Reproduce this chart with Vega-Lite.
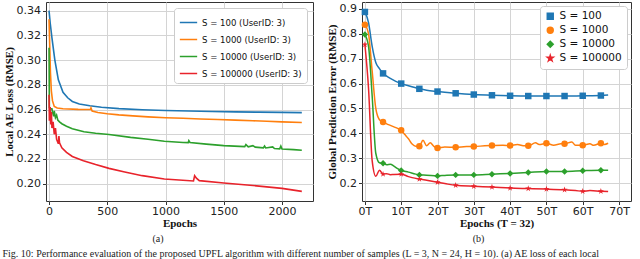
{
  "$schema": "https://vega.github.io/schema/vega-lite/v6.json",
  "padding": {"left": 2, "top": 1, "right": 0, "bottom": 0},
  "background": "white",
  "bounds": "flush",
  "spacing": 49,
  "config": {
    "view": {"stroke": "#333333", "strokeWidth": 1},
    "axis": {
      "domain": false,
      "grid": true,
      "gridColor": "#d4d4d4",
      "gridWidth": 1,
      "tickColor": "#333333",
      "tickSize": 3.5,
      "labelFont": "DejaVu Sans",
      "labelFontSize": 11,
      "labelColor": "#222222",
      "labelPadding": 2,
      "titleFont": "Liberation Serif",
      "titleFontSize": 11,
      "titleFontWeight": "bold",
      "titleColor": "#111111",
      "titlePadding": 2
    },
    "axisX": {"labelPadding": 1, "titlePadding": 1},
    "legend": {
      "orient": "top-right",
      "fillColor": "white",
      "strokeColor": "#cccccc",
      "cornerRadius": 3,
      "padding": 5,
      "labelFont": "DejaVu Sans",
      "labelFontSize": 10.5,
      "labelColor": "#111111",
      "rowPadding": 1,
      "title": null
    },
    "title": {"font": "Liberation Serif", "fontSize": 10, "fontWeight": "normal", "color": "#222222"}
  },
  "title": {
    "text": "Fig. 10: Performance evaluation of the proposed UPFL algorithm with different number of samples (L = 3, N = 24, H = 10). (a) AE loss of each local",
    "orient": "bottom",
    "anchor": "start",
    "offset": 5,
    "font": "Liberation Serif",
    "fontSize": 10,
    "fontWeight": "normal"
  },
  "datasets": {
    "ae": [
      {"epoch": 0, "series": "S = 100 (UserID: 3)", "loss": 0.340},
      {"epoch": 10, "series": "S = 100 (UserID: 3)", "loss": 0.330},
      {"epoch": 25, "series": "S = 100 (UserID: 3)", "loss": 0.318},
      {"epoch": 50, "series": "S = 100 (UserID: 3)", "loss": 0.300},
      {"epoch": 80, "series": "S = 100 (UserID: 3)", "loss": 0.284},
      {"epoch": 120, "series": "S = 100 (UserID: 3)", "loss": 0.274},
      {"epoch": 160, "series": "S = 100 (UserID: 3)", "loss": 0.2695},
      {"epoch": 200, "series": "S = 100 (UserID: 3)", "loss": 0.2665},
      {"epoch": 260, "series": "S = 100 (UserID: 3)", "loss": 0.2645},
      {"epoch": 350, "series": "S = 100 (UserID: 3)", "loss": 0.263},
      {"epoch": 450, "series": "S = 100 (UserID: 3)", "loss": 0.2618},
      {"epoch": 600, "series": "S = 100 (UserID: 3)", "loss": 0.2607},
      {"epoch": 800, "series": "S = 100 (UserID: 3)", "loss": 0.2598},
      {"epoch": 1000, "series": "S = 100 (UserID: 3)", "loss": 0.2592},
      {"epoch": 1200, "series": "S = 100 (UserID: 3)", "loss": 0.2588},
      {"epoch": 1400, "series": "S = 100 (UserID: 3)", "loss": 0.2584},
      {"epoch": 1600, "series": "S = 100 (UserID: 3)", "loss": 0.2581},
      {"epoch": 1800, "series": "S = 100 (UserID: 3)", "loss": 0.2579},
      {"epoch": 2000, "series": "S = 100 (UserID: 3)", "loss": 0.2577},
      {"epoch": 2170, "series": "S = 100 (UserID: 3)", "loss": 0.2575},

      {"epoch": 0, "series": "S = 1000 (UserID: 3)", "loss": 0.333},
      {"epoch": 5, "series": "S = 1000 (UserID: 3)", "loss": 0.315},
      {"epoch": 12, "series": "S = 1000 (UserID: 3)", "loss": 0.290},
      {"epoch": 20, "series": "S = 1000 (UserID: 3)", "loss": 0.275},
      {"epoch": 30, "series": "S = 1000 (UserID: 3)", "loss": 0.267},
      {"epoch": 45, "series": "S = 1000 (UserID: 3)", "loss": 0.2625},
      {"epoch": 70, "series": "S = 1000 (UserID: 3)", "loss": 0.2612},
      {"epoch": 120, "series": "S = 1000 (UserID: 3)", "loss": 0.2606},
      {"epoch": 250, "series": "S = 1000 (UserID: 3)", "loss": 0.2601},
      {"epoch": 355, "series": "S = 1000 (UserID: 3)", "loss": 0.2600},
      {"epoch": 360, "series": "S = 1000 (UserID: 3)", "loss": 0.2612},
      {"epoch": 370, "series": "S = 1000 (UserID: 3)", "loss": 0.2588},
      {"epoch": 420, "series": "S = 1000 (UserID: 3)", "loss": 0.2576},
      {"epoch": 500, "series": "S = 1000 (UserID: 3)", "loss": 0.2566},
      {"epoch": 600, "series": "S = 1000 (UserID: 3)", "loss": 0.2557},
      {"epoch": 720, "series": "S = 1000 (UserID: 3)", "loss": 0.2549},
      {"epoch": 850, "series": "S = 1000 (UserID: 3)", "loss": 0.2541},
      {"epoch": 1000, "series": "S = 1000 (UserID: 3)", "loss": 0.2534},
      {"epoch": 1150, "series": "S = 1000 (UserID: 3)", "loss": 0.2529},
      {"epoch": 1300, "series": "S = 1000 (UserID: 3)", "loss": 0.2524},
      {"epoch": 1450, "series": "S = 1000 (UserID: 3)", "loss": 0.2519},
      {"epoch": 1600, "series": "S = 1000 (UserID: 3)", "loss": 0.2514},
      {"epoch": 1750, "series": "S = 1000 (UserID: 3)", "loss": 0.2509},
      {"epoch": 1870, "series": "S = 1000 (UserID: 3)", "loss": 0.2505},
      {"epoch": 2000, "series": "S = 1000 (UserID: 3)", "loss": 0.2500},
      {"epoch": 2170, "series": "S = 1000 (UserID: 3)", "loss": 0.2495},

      {"epoch": 0, "series": "S = 10000 (UserID: 3)", "loss": 0.310},
      {"epoch": 3, "series": "S = 10000 (UserID: 3)", "loss": 0.2615},
      {"epoch": 15, "series": "S = 10000 (UserID: 3)", "loss": 0.2605},
      {"epoch": 25, "series": "S = 10000 (UserID: 3)", "loss": 0.2605},
      {"epoch": 30, "series": "S = 10000 (UserID: 3)", "loss": 0.258},
      {"epoch": 40, "series": "S = 10000 (UserID: 3)", "loss": 0.2545},
      {"epoch": 45, "series": "S = 10000 (UserID: 3)", "loss": 0.259},
      {"epoch": 55, "series": "S = 10000 (UserID: 3)", "loss": 0.2535},
      {"epoch": 65, "series": "S = 10000 (UserID: 3)", "loss": 0.2555},
      {"epoch": 75, "series": "S = 10000 (UserID: 3)", "loss": 0.2515},
      {"epoch": 90, "series": "S = 10000 (UserID: 3)", "loss": 0.2500},
      {"epoch": 110, "series": "S = 10000 (UserID: 3)", "loss": 0.2485},
      {"epoch": 150, "series": "S = 10000 (UserID: 3)", "loss": 0.2465},
      {"epoch": 200, "series": "S = 10000 (UserID: 3)", "loss": 0.2445},
      {"epoch": 300, "series": "S = 10000 (UserID: 3)", "loss": 0.2420},
      {"epoch": 400, "series": "S = 10000 (UserID: 3)", "loss": 0.2408},
      {"epoch": 515, "series": "S = 10000 (UserID: 3)", "loss": 0.2398},
      {"epoch": 700, "series": "S = 10000 (UserID: 3)", "loss": 0.2375},
      {"epoch": 850, "series": "S = 10000 (UserID: 3)", "loss": 0.2360},
      {"epoch": 990, "series": "S = 10000 (UserID: 3)", "loss": 0.2343},
      {"epoch": 1150, "series": "S = 10000 (UserID: 3)", "loss": 0.2333},
      {"epoch": 1195, "series": "S = 10000 (UserID: 3)", "loss": 0.2332},
      {"epoch": 1200, "series": "S = 10000 (UserID: 3)", "loss": 0.2348},
      {"epoch": 1210, "series": "S = 10000 (UserID: 3)", "loss": 0.2333},
      {"epoch": 1350, "series": "S = 10000 (UserID: 3)", "loss": 0.2320},
      {"epoch": 1500, "series": "S = 10000 (UserID: 3)", "loss": 0.2308},
      {"epoch": 1680, "series": "S = 10000 (UserID: 3)", "loss": 0.2300},
      {"epoch": 1690, "series": "S = 10000 (UserID: 3)", "loss": 0.2316},
      {"epoch": 1710, "series": "S = 10000 (UserID: 3)", "loss": 0.2298},
      {"epoch": 1750, "series": "S = 10000 (UserID: 3)", "loss": 0.2308},
      {"epoch": 1770, "series": "S = 10000 (UserID: 3)", "loss": 0.2296},
      {"epoch": 1840, "series": "S = 10000 (UserID: 3)", "loss": 0.2290},
      {"epoch": 1850, "series": "S = 10000 (UserID: 3)", "loss": 0.2305},
      {"epoch": 1860, "series": "S = 10000 (UserID: 3)", "loss": 0.2289},
      {"epoch": 1920, "series": "S = 10000 (UserID: 3)", "loss": 0.2298},
      {"epoch": 1935, "series": "S = 10000 (UserID: 3)", "loss": 0.2285},
      {"epoch": 1980, "series": "S = 10000 (UserID: 3)", "loss": 0.2282},
      {"epoch": 1990, "series": "S = 10000 (UserID: 3)", "loss": 0.2304},
      {"epoch": 2000, "series": "S = 10000 (UserID: 3)", "loss": 0.2281},
      {"epoch": 2100, "series": "S = 10000 (UserID: 3)", "loss": 0.2276},
      {"epoch": 2170, "series": "S = 10000 (UserID: 3)", "loss": 0.2270},

      {"epoch": 0, "series": "S = 100000 (UserID: 3)", "loss": 0.272},
      {"epoch": 3, "series": "S = 100000 (UserID: 3)", "loss": 0.251},
      {"epoch": 10, "series": "S = 100000 (UserID: 3)", "loss": 0.262},
      {"epoch": 15, "series": "S = 100000 (UserID: 3)", "loss": 0.248},
      {"epoch": 20, "series": "S = 100000 (UserID: 3)", "loss": 0.258},
      {"epoch": 25, "series": "S = 100000 (UserID: 3)", "loss": 0.245},
      {"epoch": 35, "series": "S = 100000 (UserID: 3)", "loss": 0.250},
      {"epoch": 45, "series": "S = 100000 (UserID: 3)", "loss": 0.240},
      {"epoch": 55, "series": "S = 100000 (UserID: 3)", "loss": 0.245},
      {"epoch": 65, "series": "S = 100000 (UserID: 3)", "loss": 0.236},
      {"epoch": 80, "series": "S = 100000 (UserID: 3)", "loss": 0.2324},
      {"epoch": 85, "series": "S = 100000 (UserID: 3)", "loss": 0.2385},
      {"epoch": 90, "series": "S = 100000 (UserID: 3)", "loss": 0.2330},
      {"epoch": 110, "series": "S = 100000 (UserID: 3)", "loss": 0.2290},
      {"epoch": 150, "series": "S = 100000 (UserID: 3)", "loss": 0.2254},
      {"epoch": 200, "series": "S = 100000 (UserID: 3)", "loss": 0.2220},
      {"epoch": 295, "series": "S = 100000 (UserID: 3)", "loss": 0.2186},
      {"epoch": 400, "series": "S = 100000 (UserID: 3)", "loss": 0.2155},
      {"epoch": 515, "series": "S = 100000 (UserID: 3)", "loss": 0.2124},
      {"epoch": 650, "series": "S = 100000 (UserID: 3)", "loss": 0.2095},
      {"epoch": 800, "series": "S = 100000 (UserID: 3)", "loss": 0.2065},
      {"epoch": 990, "series": "S = 100000 (UserID: 3)", "loss": 0.2038},
      {"epoch": 1240, "series": "S = 100000 (UserID: 3)", "loss": 0.2022},
      {"epoch": 1250, "series": "S = 100000 (UserID: 3)", "loss": 0.2065},
      {"epoch": 1265, "series": "S = 100000 (UserID: 3)", "loss": 0.2045},
      {"epoch": 1290, "series": "S = 100000 (UserID: 3)", "loss": 0.2025},
      {"epoch": 1500, "series": "S = 100000 (UserID: 3)", "loss": 0.2005},
      {"epoch": 1700, "series": "S = 100000 (UserID: 3)", "loss": 0.1990},
      {"epoch": 2000, "series": "S = 100000 (UserID: 3)", "loss": 0.1962},
      {"epoch": 2170, "series": "S = 100000 (UserID: 3)", "loss": 0.1938}
    ],
    "gp": [
      {"epoch": 0, "S": "S = 100", "rmse": 0.888},
      {"epoch": 1, "S": "S = 100", "rmse": 0.845},
      {"epoch": 2, "S": "S = 100", "rmse": 0.750},
      {"epoch": 3, "S": "S = 100", "rmse": 0.685},
      {"epoch": 4, "S": "S = 100", "rmse": 0.660},
      {"epoch": 5, "S": "S = 100", "rmse": 0.641},
      {"epoch": 6, "S": "S = 100", "rmse": 0.630},
      {"epoch": 7, "S": "S = 100", "rmse": 0.621},
      {"epoch": 8, "S": "S = 100", "rmse": 0.613},
      {"epoch": 9, "S": "S = 100", "rmse": 0.606},
      {"epoch": 10, "S": "S = 100", "rmse": 0.600},
      {"epoch": 12, "S": "S = 100", "rmse": 0.591},
      {"epoch": 15, "S": "S = 100", "rmse": 0.579},
      {"epoch": 17, "S": "S = 100", "rmse": 0.573},
      {"epoch": 20, "S": "S = 100", "rmse": 0.568},
      {"epoch": 22, "S": "S = 100", "rmse": 0.565},
      {"epoch": 25, "S": "S = 100", "rmse": 0.561},
      {"epoch": 30, "S": "S = 100", "rmse": 0.556},
      {"epoch": 35, "S": "S = 100", "rmse": 0.553},
      {"epoch": 40, "S": "S = 100", "rmse": 0.551},
      {"epoch": 45, "S": "S = 100", "rmse": 0.550},
      {"epoch": 50, "S": "S = 100", "rmse": 0.550},
      {"epoch": 55, "S": "S = 100", "rmse": 0.550},
      {"epoch": 60, "S": "S = 100", "rmse": 0.551},
      {"epoch": 65, "S": "S = 100", "rmse": 0.552},
      {"epoch": 67, "S": "S = 100", "rmse": 0.554},

      {"epoch": 0, "S": "S = 1000", "rmse": 0.837},
      {"epoch": 1, "S": "S = 1000", "rmse": 0.800},
      {"epoch": 2, "S": "S = 1000", "rmse": 0.650},
      {"epoch": 3, "S": "S = 1000", "rmse": 0.500},
      {"epoch": 4, "S": "S = 1000", "rmse": 0.455},
      {"epoch": 5, "S": "S = 1000", "rmse": 0.446},
      {"epoch": 6, "S": "S = 1000", "rmse": 0.438},
      {"epoch": 7, "S": "S = 1000", "rmse": 0.432},
      {"epoch": 8, "S": "S = 1000", "rmse": 0.426},
      {"epoch": 9, "S": "S = 1000", "rmse": 0.420},
      {"epoch": 10, "S": "S = 1000", "rmse": 0.412},
      {"epoch": 11, "S": "S = 1000", "rmse": 0.395},
      {"epoch": 12, "S": "S = 1000", "rmse": 0.378},
      {"epoch": 13, "S": "S = 1000", "rmse": 0.357},
      {"epoch": 14, "S": "S = 1000", "rmse": 0.348},
      {"epoch": 15, "S": "S = 1000", "rmse": 0.348},
      {"epoch": 16, "S": "S = 1000", "rmse": 0.372},
      {"epoch": 17, "S": "S = 1000", "rmse": 0.350},
      {"epoch": 18, "S": "S = 1000", "rmse": 0.362},
      {"epoch": 19, "S": "S = 1000", "rmse": 0.348},
      {"epoch": 20, "S": "S = 1000", "rmse": 0.341},
      {"epoch": 22, "S": "S = 1000", "rmse": 0.345},
      {"epoch": 25, "S": "S = 1000", "rmse": 0.344},
      {"epoch": 28, "S": "S = 1000", "rmse": 0.347},
      {"epoch": 30, "S": "S = 1000", "rmse": 0.347},
      {"epoch": 33, "S": "S = 1000", "rmse": 0.350},
      {"epoch": 35, "S": "S = 1000", "rmse": 0.351},
      {"epoch": 38, "S": "S = 1000", "rmse": 0.352},
      {"epoch": 40, "S": "S = 1000", "rmse": 0.351},
      {"epoch": 42, "S": "S = 1000", "rmse": 0.355},
      {"epoch": 44, "S": "S = 1000", "rmse": 0.350},
      {"epoch": 45, "S": "S = 1000", "rmse": 0.350},
      {"epoch": 47, "S": "S = 1000", "rmse": 0.362},
      {"epoch": 48, "S": "S = 1000", "rmse": 0.355},
      {"epoch": 50, "S": "S = 1000", "rmse": 0.360},
      {"epoch": 52, "S": "S = 1000", "rmse": 0.352},
      {"epoch": 54, "S": "S = 1000", "rmse": 0.358},
      {"epoch": 55, "S": "S = 1000", "rmse": 0.358},
      {"epoch": 57, "S": "S = 1000", "rmse": 0.365},
      {"epoch": 58, "S": "S = 1000", "rmse": 0.352},
      {"epoch": 60, "S": "S = 1000", "rmse": 0.352},
      {"epoch": 62, "S": "S = 1000", "rmse": 0.358},
      {"epoch": 63, "S": "S = 1000", "rmse": 0.352},
      {"epoch": 65, "S": "S = 1000", "rmse": 0.360},
      {"epoch": 66, "S": "S = 1000", "rmse": 0.355},
      {"epoch": 67, "S": "S = 1000", "rmse": 0.360},

      {"epoch": 0, "S": "S = 10000", "rmse": 0.797},
      {"epoch": 1, "S": "S = 10000", "rmse": 0.750},
      {"epoch": 2, "S": "S = 10000", "rmse": 0.550},
      {"epoch": 3, "S": "S = 10000", "rmse": 0.320},
      {"epoch": 4, "S": "S = 10000", "rmse": 0.282},
      {"epoch": 5, "S": "S = 10000", "rmse": 0.280},
      {"epoch": 6, "S": "S = 10000", "rmse": 0.274},
      {"epoch": 7, "S": "S = 10000", "rmse": 0.276},
      {"epoch": 8, "S": "S = 10000", "rmse": 0.268},
      {"epoch": 9, "S": "S = 10000", "rmse": 0.258},
      {"epoch": 10, "S": "S = 10000", "rmse": 0.251},
      {"epoch": 12, "S": "S = 10000", "rmse": 0.244},
      {"epoch": 14, "S": "S = 10000", "rmse": 0.236},
      {"epoch": 15, "S": "S = 10000", "rmse": 0.233},
      {"epoch": 17, "S": "S = 10000", "rmse": 0.232},
      {"epoch": 20, "S": "S = 10000", "rmse": 0.229},
      {"epoch": 22, "S": "S = 10000", "rmse": 0.231},
      {"epoch": 25, "S": "S = 10000", "rmse": 0.233},
      {"epoch": 30, "S": "S = 10000", "rmse": 0.233},
      {"epoch": 35, "S": "S = 10000", "rmse": 0.236},
      {"epoch": 40, "S": "S = 10000", "rmse": 0.239},
      {"epoch": 45, "S": "S = 10000", "rmse": 0.243},
      {"epoch": 50, "S": "S = 10000", "rmse": 0.247},
      {"epoch": 55, "S": "S = 10000", "rmse": 0.247},
      {"epoch": 60, "S": "S = 10000", "rmse": 0.250},
      {"epoch": 65, "S": "S = 10000", "rmse": 0.252},
      {"epoch": 67, "S": "S = 10000", "rmse": 0.252},

      {"epoch": 0, "S": "S = 100000", "rmse": 0.757},
      {"epoch": 1, "S": "S = 100000", "rmse": 0.580},
      {"epoch": 2, "S": "S = 100000", "rmse": 0.290},
      {"epoch": 3, "S": "S = 100000", "rmse": 0.227},
      {"epoch": 4, "S": "S = 100000", "rmse": 0.252},
      {"epoch": 5, "S": "S = 100000", "rmse": 0.236},
      {"epoch": 6, "S": "S = 100000", "rmse": 0.238},
      {"epoch": 7, "S": "S = 100000", "rmse": 0.234},
      {"epoch": 8, "S": "S = 100000", "rmse": 0.235},
      {"epoch": 10, "S": "S = 100000", "rmse": 0.236},
      {"epoch": 12, "S": "S = 100000", "rmse": 0.226},
      {"epoch": 13, "S": "S = 100000", "rmse": 0.222},
      {"epoch": 15, "S": "S = 100000", "rmse": 0.216},
      {"epoch": 17, "S": "S = 100000", "rmse": 0.211},
      {"epoch": 20, "S": "S = 100000", "rmse": 0.203},
      {"epoch": 22, "S": "S = 100000", "rmse": 0.198},
      {"epoch": 25, "S": "S = 100000", "rmse": 0.191},
      {"epoch": 30, "S": "S = 100000", "rmse": 0.187},
      {"epoch": 35, "S": "S = 100000", "rmse": 0.184},
      {"epoch": 40, "S": "S = 100000", "rmse": 0.180},
      {"epoch": 45, "S": "S = 100000", "rmse": 0.178},
      {"epoch": 50, "S": "S = 100000", "rmse": 0.176},
      {"epoch": 55, "S": "S = 100000", "rmse": 0.173},
      {"epoch": 58, "S": "S = 100000", "rmse": 0.170},
      {"epoch": 60, "S": "S = 100000", "rmse": 0.167},
      {"epoch": 62, "S": "S = 100000", "rmse": 0.170},
      {"epoch": 65, "S": "S = 100000", "rmse": 0.167},
      {"epoch": 67, "S": "S = 100000", "rmse": 0.166}
    ]
  },
  "resolve": {"scale": {"color": "independent", "shape": "independent"}, "legend": {"color": "independent", "shape": "independent"}},
  "hconcat": [
    {
      "width": 267,
      "height": 199,
      "title": {"text": "(a)", "orient": "bottom", "anchor": "middle", "frame": "bounds", "offset": 5},
      "data": {"name": "ae"},
      "mark": {"type": "line", "strokeWidth": 1.6, "clip": true},
      "encoding": {
        "x": {"field": "epoch", "type": "quantitative", "title": "Epochs",
              "scale": {"domain": [-26, 2266], "nice": false, "zero": false},
              "axis": {"values": [0, 500, 1000, 1500, 2000], "format": "d"}},
        "y": {"field": "loss", "type": "quantitative", "title": "Local AE Loss (RMSE)",
              "scale": {"domain": [0.186, 0.347], "nice": false, "zero": false},
              "axis": {"values": [0.20, 0.22, 0.24, 0.26, 0.28, 0.30, 0.32, 0.34], "format": ".2f"}},
        "color": {"field": "series", "type": "nominal",
                  "scale": {"domain": ["S = 100 (UserID: 3)", "S = 1000 (UserID: 3)", "S = 10000 (UserID: 3)", "S = 100000 (UserID: 3)"],
                            "range": ["#1f77b4", "#ff7f0e", "#2ca02c", "#e8232b"]},
                  "legend": {"symbolType": "stroke", "symbolSize": 300, "symbolStrokeWidth": 1.5, "offset": 6, "labelFont": "DejaVu Sans Condensed", "labelFontSize": 9.5, "rowPadding": 3}}
      }
    },
    {
      "width": 269,
      "height": 199,
      "title": {"text": "(b)", "orient": "bottom", "anchor": "middle", "frame": "bounds", "offset": 5},
      "data": {"name": "gp"},
      "encoding": {
        "x": {"field": "epoch", "type": "quantitative", "title": "Epochs (T = 32)",
              "scale": {"domain": [-0.8, 73.3], "nice": false, "zero": false},
              "axis": {"values": [0, 10, 20, 30, 40, 50, 60, 70], "labelExpr": "datum.value + 'T'"}},
        "y": {"field": "rmse", "type": "quantitative", "title": "Global Prediction Error (RMSE)",
              "scale": {"domain": [0.128, 0.928], "nice": false, "zero": false},
              "axis": {"values": [0.2, 0.3, 0.4, 0.5, 0.6, 0.7, 0.8, 0.9], "format": ".1f"}},
        "color": {"field": "S", "type": "nominal",
                  "scale": {"domain": ["S = 100", "S = 1000", "S = 10000", "S = 100000"],
                            "range": ["#1f77b4", "#ff7f0e", "#2ca02c", "#e8232b"]},
                  "legend": {"offset": 4, "symbolSize": 35}}
      },
      "layer": [
        {"mark": {"type": "line", "strokeWidth": 1.5, "interpolate": "monotone", "clip": true}},
        {
          "transform": [{"filter": "datum.epoch % 5 == 0 && datum.epoch <= 65"}],
          "mark": {"type": "point", "filled": true, "opacity": 1, "size": 42},
          "encoding": {
            "shape": {"field": "S", "type": "nominal",
                      "scale": {"domain": ["S = 100", "S = 1000", "S = 10000", "S = 100000"],
                                "range": ["square", "circle", "diamond", "M0,-1L0.22,-0.3L0.95,-0.31L0.36,0.12L0.59,0.81L0,0.38L-0.59,0.81L-0.36,0.12L-0.95,-0.31L-0.22,-0.3Z"]},
                      "legend": {"offset": 4, "symbolSize": 35}}
          }
        }
      ]
    }
  ]
}
